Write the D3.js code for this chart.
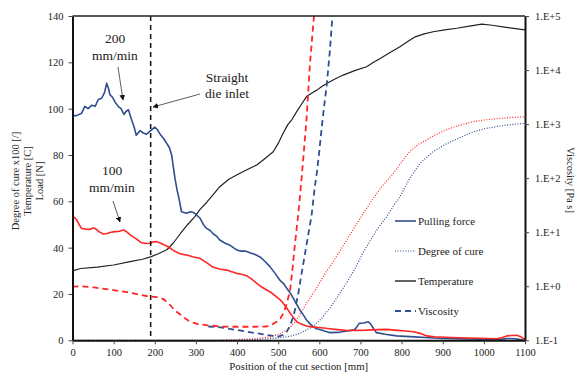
<!DOCTYPE html>
<html><head><meta charset="utf-8">
<script src="https://cdn.jsdelivr.net/npm/d3@7"></script>
<style>
body{margin:0;background:#fff;}
svg text{font-family:"Liberation Serif","Times New Roman",Times,serif !important;fill:#222;}
</style></head>
<body><svg id="c" width="575" height="373"></svg>
<script>
// ---- data ----
const xTicks = [0,100,200,300,400,500,600,700,800,900,1000,1100];
const yTicks = [0,20,40,60,80,100,120,140];
const yRightTicks = [0.1,1,10,100,1000,10000,100000];
const yRightLabels = ["1.E-1","1.E+0","1.E+1","1.E+2","1.E+3","1.E+4","1.E+5"];
const legendLabels = ["Pulling force","Degree of cure","Temperature","Viscosity"];
const dieInletX = 190;

// pulling force, 200 mm/min [N]
const force200 = [[0,97],[10,97],[22,98],[30,101],[38,100],[47,101.5],[55,101],[63,104],[71,104.5],[78,107],[83,111],[87,109],[91,106],[97,105],[103,103],[111,101],[118,100],[125,97.5],[131,99],[136,99.5],[144,95],[150,92],[155,88.5],[164,90.5],[172,89.5],[180,89],[190,90.5],[200,92],[206,91],[213,89],[222,87],[229,85],[236,83],[241,80],[245,75],[249,70],[254,65],[258,62],[265,55.5],[277,54.8],[287,55.5],[294,55.2],[302,54],[310,52.7],[318,50],[326,48.3],[334,47.5],[342,46],[350,45],[358,43.3],[370,42],[383,41],[391,40],[399,39],[410,38.5],[420,38.5],[431,37.8],[444,37],[456,36],[468,34],[480,31.8],[492,29],[504,26],[513,24.5],[521,22.4],[529,20.5],[537,18.1],[545,15.5],[553,13],[561,11],[569,8.8],[577,7.2],[585,5.9],[593,5],[601,4.7],[613,4],[626,3.3],[645,3.4],[667,4],[685,4.5],[692,6],[697,7.3],[708,7.5],[719,8],[725,7],[732,5],[739,3.3],[760,2.6],[788,1.9],[820,1.6],[869,1.1],[900,0.8],[950,0.6],[991,0.5],[1040,0.4],[1060,0.8],[1075,0.7],[1085,0.4],[1100,0]];
// pulling force, 100 mm/min [N]
const force100 = [[0,53.4],[5,53],[10,52],[16,50],[22,48.3],[32,48],[43,47.9],[50,48.5],[55,48.3],[65,46.8],[75,45.9],[83,46],[91,46.5],[103,46.9],[112,47],[124,47.6],[132,46.8],[140,45.5],[155,43.8],[168,42.1],[180,41.8],[188,41.9],[197,42.5],[205,42.6],[217,41.7],[229,40.7],[240,39.5],[250,38.3],[262,37.3],[270,37],[278,36.8],[294,36],[310,35.4],[326,33.5],[342,31.5],[358,30.8],[375,30.3],[387,29.6],[399,28.9],[411,28.5],[423,27.9],[435,26.5],[448,24.6],[460,23],[472,21.7],[484,20.5],[496,18.8],[505,17.5],[513,15.8],[521,13.8],[529,11.8],[537,9.8],[545,8],[553,7.3],[561,6.7],[569,6.2],[581,5.8],[593,5.6],[610,5.3],[626,5],[645,4.6],[667,4.2],[690,4.3],[715,4.4],[740,4.6],[764,4.7],[790,4.3],[810,4],[829,3.7],[845,3],[861,1.9],[880,1.5],[920,1.2],[960,1],[991,0.9],[1031,0.7],[1045,1.2],[1056,1.9],[1068,2.1],[1080,2.2],[1090,1.5],[1100,0.3]];
// temperature [C]
const temperature = [[0,30],[20,31],[60,31.6],[100,32.5],[140,34],[170,35],[190,36],[210,37.5],[230,39.2],[245,42],[262,46],[280,50],[298,53.5],[310,56.5],[326,59.5],[340,62.5],[358,66.3],[380,69.5],[407,72.1],[430,74.2],[448,75.7],[468,78.5],[488,81.4],[500,85],[512,89.4],[523,93],[533,95.2],[545,98.7],[557,102],[569,105.2],[582,106.8],[594,108],[606,109.6],[618,110.9],[638,112.8],[658,114.5],[686,116.4],[715,118.1],[732,120],[748,121.7],[772,124.2],[796,126.7],[815,129],[833,131],[855,132.3],[877,133.2],[905,134],[934,134.7],[965,135.6],[995,136.5],[1020,136],[1050,135.2],[1100,134]];
// degree of cure x100, 100 mm/min
const cure100 = [[0,0],[350,0],[400,0.3],[450,0.8],[480,1.5],[500,2.5],[525,4.8],[545,8.8],[569,16],[585,20.3],[600,24.5],[618,30],[626,31.8],[650,38.5],[667,43.5],[690,50],[707,54.8],[730,61],[750,66],[780,72],[800,77],[820,81.5],[840,84.5],[861,86.5],[880,88.5],[910,91],[940,92.8],[970,94.2],[1000,95.1],[1040,95.8],[1070,96.2],[1100,96.5]];
// degree of cure x100, 200 mm/min
const cure200 = [[0,0],[400,0],[450,0.3],[500,1],[530,1.8],[553,3],[585,6],[606,9.5],[626,14],[647,19.5],[667,25],[687,31],[707,38],[727,44],[745,49],[764,53.4],[780,58],[796,62],[820,70],[845,76.4],[877,81.5],[910,85],[942,87.5],[975,90],[1000,91.3],[1050,92.8],[1100,93.7]];
// viscosity [Pa s], 100 mm/min
const visc100 = [[0,0.98],[18,1.0],[53,0.95],[99,0.85],[140,0.76],[180,0.66],[205,0.63],[221,0.58],[237,0.45],[250,0.35],[262,0.30],[275,0.25],[286,0.22],[305,0.20],[326,0.19],[360,0.18],[391,0.178],[440,0.178],[472,0.18],[485,0.195],[496,0.22],[505,0.25],[513,0.32],[521,0.48],[529,0.85],[535,2.2],[541,6.3],[549,22],[557,100],[563,355],[569,1260],[577,12300],[587,100000]];
// viscosity [Pa s], 200 mm/min
const visc200 = [[330,0.18],[360,0.174],[399,0.155],[448,0.135],[472,0.126],[500,0.117],[512,0.126],[521,0.145],[529,0.19],[537,0.275],[543,0.44],[549,0.74],[555,1.4],[561,2.6],[567,4.8],[573,8.9],[581,20],[589,69],[594,126],[600,316],[606,891],[612,2240],[618,5250],[625,20000],[632,100000]];

// ---- layout ----
const FONT = '"Liberation Serif","Times New Roman",Times,serif';
const svg = d3.select("#c");
const L = 72.5, R = 525, T = 16, B = 340.3;
const BLUE = "#2f4f8f", RED = "#ff2626", BLACK = "#222";

const x = d3.scaleLinear().domain([0,1100]).range([L,R]);
const y = d3.scaleLinear().domain([0,140]).range([B,T]);
const yr = d3.scaleLog().domain([0.1,100000]).range([B,T]);

svg.append("defs").append("clipPath").attr("id","clip")
  .append("rect").attr("x",L).attr("y",T).attr("width",R-L).attr("height",B-T);

const g = svg.append("g").attr("clip-path","url(#clip)");
const lineL = d3.line().x(d=>x(d[0])).y(d=>y(d[1]));
const lineR = d3.line().x(d=>x(d[0])).y(d=>yr(d[1]));

function path(data, gen, color, w, dash){
  g.append("path").attr("d",gen(data)).attr("fill","none").attr("stroke",color)
   .attr("stroke-width",w).attr("stroke-dasharray",dash||null).attr("stroke-linejoin","round");
}
path(cure100, lineL, RED, 1.2, "1,1.6");
path(cure200, lineL, BLUE, 1.2, "1,1.6");
path(temperature, lineL, BLACK, 1.2);
path(force200, lineL, BLUE, 1.6);
path(force100, lineL, RED, 1.6);
path(visc200, lineR, BLUE, 1.8, "6,4");
path(visc100, lineR, RED, 1.8, "6,4");

// die inlet line
svg.append("line").attr("x1",x(dieInletX)).attr("x2",x(dieInletX)).attr("y1",T).attr("y2",B)
  .attr("stroke","#111").attr("stroke-width",1.5).attr("stroke-dasharray","5,4");

// axes
function styleAxis(fs){
  return function(sel){
    sel.attr("font-family",FONT);
    sel.selectAll("path.domain").attr("stroke","#111").attr("stroke-width",2);
    sel.selectAll(".tick line").attr("stroke","#444").attr("stroke-width",1);
    sel.selectAll("text").style("font-family",FONT).attr("font-size",fs).attr("fill","#222");
  };
}
svg.append("g").attr("transform",`translate(0,${B})`)
  .call(d3.axisBottom(x).tickValues(xTicks).tickFormat(d3.format("d")).tickSize(4).tickSizeOuter(0).tickPadding(4))
  .call(styleAxis(10.5));
svg.append("g").attr("transform",`translate(${L},0)`)
  .call(d3.axisLeft(y).tickValues(yTicks).tickFormat(d3.format("d")).tickSize(4).tickSizeOuter(0).tickPadding(5))
  .call(styleAxis(10.5));
svg.append("g").attr("transform",`translate(${R},0)`)
  .call(d3.axisRight(yr).tickValues(yRightTicks).tickFormat((d,i)=>yRightLabels[i]).tickSize(4).tickSizeOuter(0).tickPadding(6))
  .call(styleAxis(10.5));
svg.append("line").attr("x1",L).attr("x2",R).attr("y1",T).attr("y2",T).attr("stroke","#222").attr("stroke-width",1.5);

function txt(sel){ return sel.style("font-family",FONT).attr("fill","#222"); }

// axis titles
txt(svg.append("text")).attr("x",(L+R)/2).attr("y",370).attr("text-anchor","middle").attr("font-size",10.8)
  .text("Position of the cut section [mm]");
const lt = txt(svg.append("text")).attr("transform","translate(0,181) rotate(-90)").attr("text-anchor","middle").attr("font-size",10.5);
[["Degree of cure x100 [/]",18.5],["Temperature [C]",30.5],["Load [N]",42.5]].forEach(([t,xx])=>{
  lt.append("tspan").attr("x",0).attr("y",xx).text(t);
});
txt(svg.append("text")).attr("transform","translate(567,180) rotate(90)").attr("text-anchor","middle").attr("font-size",10.5)
  .text("Viscosity [Pa s]");

// annotations
const ann = [["200",115,43],["mm/min",115,60],["Straight",227,82],["die inlet",227,98],["100",112,175],["mm/min",112,192]];
ann.forEach(([t,xx,yy])=>txt(svg.append("text")).attr("x",xx).attr("y",yy).attr("text-anchor","middle").attr("font-size",13.5).text(t));
const defs = svg.select("defs");
defs.append("marker").attr("id","ah").attr("viewBox","0 0 10 10").attr("refX",9).attr("refY",5)
  .attr("markerWidth",7).attr("markerHeight",7).attr("orient","auto")
  .append("path").attr("d","M0,0 L10,5 L0,10 z").attr("fill","#111");
[[118,67,123,100],[200,94,153,107],[113,201,120,222]].forEach(([a,b,c,d])=>{
  svg.append("line").attr("x1",a).attr("y1",b).attr("x2",c).attr("y2",d)
    .attr("stroke","#333").attr("stroke-width",0.8).attr("marker-end","url(#ah)");
});

// legend
const legStyles = [[BLUE,1.6,null],[BLUE,1.2,"1,1.6"],[BLACK,1.4,null],[BLUE,1.8,"6,4"]];
const legY = [221,251,281,311];
legendLabels.forEach((t,i)=>{
  const [c,w,da] = legStyles[i];
  svg.append("line").attr("x1",395).attr("x2",416).attr("y1",legY[i]).attr("y2",legY[i])
    .attr("stroke",c).attr("stroke-width",w).attr("stroke-dasharray",da);
  txt(svg.append("text")).attr("x",418).attr("y",legY[i]+3.5).attr("font-size",11).text(t);
});
</script></body></html>
